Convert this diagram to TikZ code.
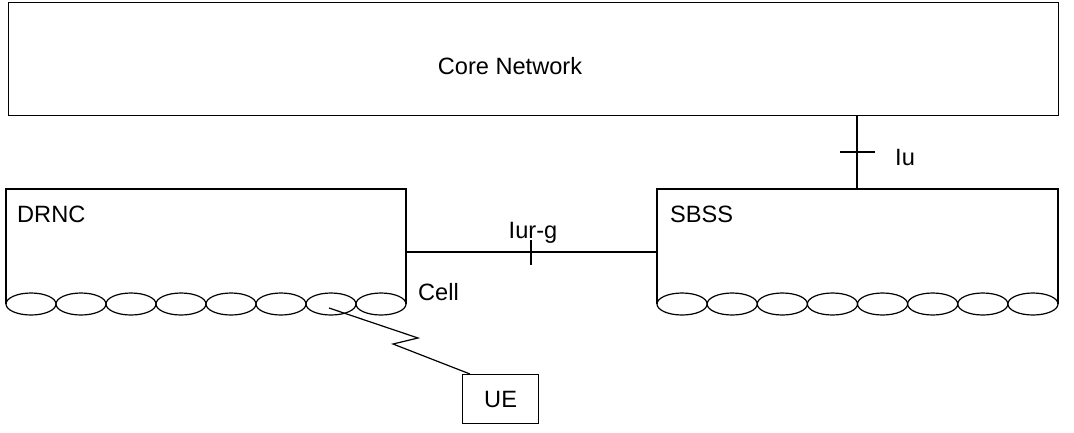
\documentclass[tikz,border=0pt]{standalone}
\usepackage{fontspec}
\setmainfont{Liberation Sans}
\usetikzlibrary{calc}
\begin{document}
\begin{tikzpicture}[x=1pt,y=-1pt,
  line/.style={line width=1.2pt,black},
  lbl/.style={font=\fontsize{23.6}{26}\selectfont,inner sep=0pt},
  cellell/.style={line width=1.2pt,black},
  boxnode/.style={draw,line width=1.2pt,inner sep=0pt,anchor=north west}]
\useasboundingbox (0,0) rectangle (1074,432);
% Core network
\node[boxnode,minimum width=1050pt,minimum height=113pt] (core) at (8,2) {};
\node[lbl] (corelbl) at (510,66) {Core Network};
% DRNC open box
\coordinate (drncTL) at (6,189);
\coordinate (drncTR) at (406,189);
\coordinate (drncBL) at (6,304);
\coordinate (drncBR) at (406,304);
\draw[line] (drncBL) -- (drncTL) -- (drncTR) -- (drncBR);
\foreach \i in {0,...,7} {
  \draw[cellell] (31+50*\i,304) ellipse [x radius=25, y radius=11];
}
\node[lbl,anchor=west] (drnclbl) at (17,214) {DRNC};
% SBSS open box
\coordinate (sbssTL) at (657,189);
\coordinate (sbssTR) at (1058,189);
\coordinate (sbssBL) at (657,304);
\coordinate (sbssBR) at (1058,304);
\draw[line] (sbssBL) -- (sbssTL) -- (sbssTR) -- (sbssBR);
\foreach \i in {0,...,7} {
  \draw[cellell] (682.06+50.125*\i,304) ellipse [x radius=25.06, y radius=11];
}
\node[lbl,anchor=west] (sbsslbl) at (670,214) {SBSS};
% Iu
\coordinate (iuTop) at (857,115);
\coordinate (iuBot) at (857,189);
\draw[line] (iuTop) -- (iuBot);
\coordinate (iuTickL) at (840,152);
\coordinate (iuTickR) at (875,152);
\draw[line] (iuTickL) -- (iuTickR);
\node[lbl,anchor=west] (iulbl) at (895,157) {Iu};
% Iur-g
\coordinate (iurL) at (406,252);
\coordinate (iurR) at (657,252);
\draw[line] (iurL) -- (iurR);
\coordinate (iurTickT) at (531,240);
\coordinate (iurTickB) at (531,265);
\node[lbl] (iurlbl) at (533,233) {Iur-g};
\draw[line] (iurTickT) -- (iurTickB);
% Cell label
\node[lbl,anchor=west] (celllbl) at (418,292) {Cell};
% UE
\node[boxnode,minimum width=76pt,minimum height=49pt] (ue) at (462,374) {};
\node[lbl] (uelbl) at (ue.center) {UE};
% radio link
\coordinate (rs) at (329,308);
\coordinate (z1) at (418,338);
\coordinate (z2) at (393,344);
\coordinate (re) at ($(ue.north west)+(8,0)$);
\draw[line] (rs) -- (z1) -- (z2) -- (re);
\end{tikzpicture}
\end{document}
